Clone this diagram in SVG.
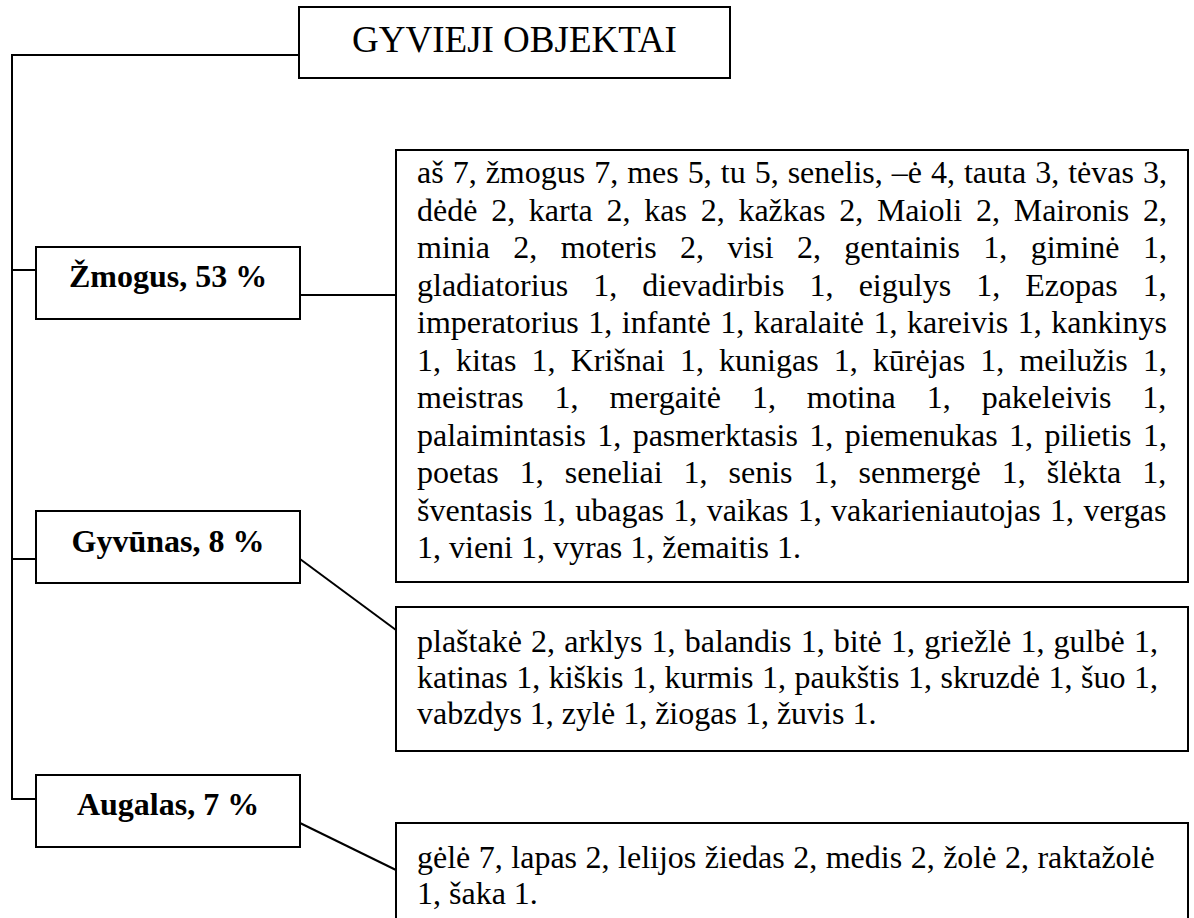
<svg xmlns="http://www.w3.org/2000/svg" width="1194" height="918" viewBox="0 0 1194 918">
<style>
.box{fill:#fff;stroke:#000;stroke-width:2}
.ln{fill:none;stroke:#000;stroke-width:2}
.t{font-family:"Liberation Serif","Times New Roman",serif;font-size:32px;fill:#000}
.b{font-family:"Liberation Serif","Times New Roman",serif;font-size:32px;font-weight:bold;fill:#000;text-anchor:middle}
.h{font-family:"Liberation Serif","Times New Roman",serif;font-size:37px;fill:#000;text-anchor:middle}
</style>
<rect width="1194" height="918" fill="#fff"/>
<g id="connectors">
<polyline class="ln" points="299,55 12,55 12,799 36,799"/>
<line class="ln" x1="12" y1="270" x2="36" y2="270"/>
<line class="ln" x1="12" y1="559" x2="36" y2="559"/>
<line class="ln" x1="300" y1="295" x2="396" y2="295"/>
<line class="ln" x1="300" y1="559" x2="396" y2="630"/>
<line class="ln" x1="300" y1="823" x2="396" y2="870"/>
</g>
<g id="root">
<rect class="box" x="299" y="7" width="431" height="71"/>
<text class="h" x="514.5" y="52">GYVIEJI OBJEKTAI</text>
</g>
<g id="zmogus">
<rect class="box" x="36" y="247" width="264" height="72"/>
<text class="b" x="168" y="287">Žmogus, 53 %</text>
</g>
<g id="gyvunas">
<rect class="box" x="36" y="511" width="264" height="72"/>
<text class="b" x="168" y="552">Gyvūnas, 8 %</text>
</g>
<g id="augalas">
<rect class="box" x="36" y="775" width="264" height="72"/>
<text class="b" x="168" y="815">Augalas, 7 %</text>
</g>
<g id="zmogus-list">
<rect class="box" x="396" y="150" width="792" height="432"/>
<text class="t" x="417" y="183" word-spacing="1.0">aš 7, žmogus 7, mes 5, tu 5, senelis, –ė 4, tauta 3, tėvas 3,</text>
<text class="t" x="417" y="220.5" word-spacing="5.73">dėdė 2, karta 2, kas 2, kažkas 2, Maioli 2, Maironis 2,</text>
<text class="t" x="417" y="258" word-spacing="15.38">minia 2, moteris 2, visi 2, gentainis 1, giminė 1,</text>
<text class="t" x="417" y="295.5" word-spacing="17.1">gladiatorius 1, dievadirbis 1, eigulys 1, Ezopas 1,</text>
<text class="t" x="417" y="333" word-spacing="1.54">imperatorius 1, infantė 1, karalaitė 1, kareivis 1, kankinys</text>
<text class="t" x="417" y="370.5" word-spacing="7.09">1, kitas 1, Krišnai 1, kunigas 1, kūrėjas 1, meilužis 1,</text>
<text class="t" x="417" y="408" word-spacing="22.96">meistras 1, mergaitė 1, motina 1, pakeleivis 1,</text>
<text class="t" x="417" y="445.5" word-spacing="3.4">palaimintasis 1, pasmerktasis 1, piemenukas 1, pilietis 1,</text>
<text class="t" x="417" y="483" word-spacing="13.02">poetas 1, seneliai 1, senis 1, senmergė 1, šlėkta 1,</text>
<text class="t" x="417" y="520.5" word-spacing="1.32">šventasis 1, ubagas 1, vaikas 1, vakarieniautojas 1, vergas</text>
<text class="t" x="417" y="558">1, vieni 1, vyras 1, žemaitis 1.</text>
</g>
<g id="gyvunas-list">
<rect class="box" x="396" y="607" width="792" height="144"/>
<text class="t" x="417" y="652" word-spacing="1.19">plaštakė 2, arklys 1, balandis 1, bitė 1, griežlė 1, gulbė 1,</text>
<text class="t" x="417" y="688" word-spacing="0.54">katinas 1, kiškis 1, kurmis 1, paukštis 1, skruzdė 1, šuo 1,</text>
<text class="t" x="417" y="724">vabzdys 1, zylė 1, žiogas 1, žuvis 1.</text>
</g>
<g id="augalas-list">
<rect class="box" x="396" y="823" width="792" height="120"/>
<text class="t" x="417" y="868" word-spacing="0.5">gėlė 7, lapas 2, lelijos žiedas 2, medis 2, žolė 2, raktažolė</text>
<text class="t" x="417" y="904">1, šaka 1.</text>
</g>
</svg>
